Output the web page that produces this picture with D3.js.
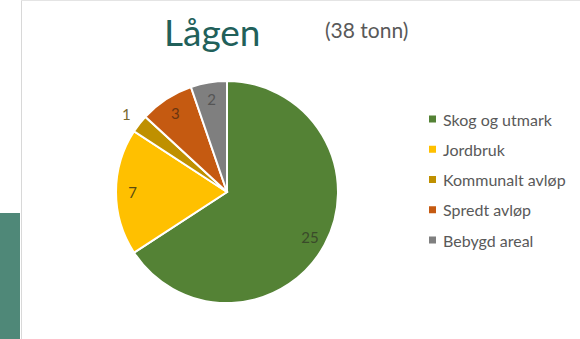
<!DOCTYPE html>
<html>
<head>
<meta charset="utf-8">
<script src="https://cdn.jsdelivr.net/npm/d3@7"></script>
<style>
  html, body { margin: 0; padding: 0; background: #fff; }
  svg { display: block; font-family: Lato, "Open Sans", sans-serif; }
</style>
</head>
<body>
<svg id="chart" width="580" height="339"></svg>
<script>
// Phosphorus sources for Lågen, tonnes per year
const categories = ["Skog og utmark", "Jordbruk", "Kommunalt avløp", "Spredt avløp", "Bebygd areal"];
const values = [25, 7, 1, 3, 2];
const colors = ["#548235", "#ffc000", "#bf9000", "#c55a11", "#7f7f7f"];
const title = "Lågen";
const subtitle = "(38 tonn)";

const svg = d3.select("#chart");

// slide frame: side panel and rule lines
svg.append("rect").attr("x", 0).attr("y", 213).attr("width", 20).attr("height", 126).attr("fill", "#4f8878");
svg.append("line").attr("x1", 21.5).attr("x2", 21.5).attr("y1", 0).attr("y2", 339)
  .attr("stroke", "#d8d8d8").attr("stroke-width", 1);
svg.append("line").attr("x1", 21).attr("x2", 580).attr("y1", 0.5).attr("y2", 0.5)
  .attr("stroke", "#e4e4e4").attr("stroke-width", 1);

svg.append("text").attr("x", 164).attr("y", 46).attr("font-size", 37).attr("fill", "#21605a").text(title);
svg.append("text").attr("x", 325).attr("y", 38).attr("font-size", 21).attr("fill", "#595959").text(subtitle);

const cx = 227, cy = 192, r = 111;
const data = categories.map((c, i) => ({ cat: c, value: values[i], color: colors[i] }));
const pie = d3.pie().sort(null).value(d => d.value);
const arcs = pie(data);
const arc = d3.arc().innerRadius(0).outerRadius(r);

const g = svg.append("g").attr("transform", `translate(${cx},${cy})`);
g.selectAll("path").data(arcs).join("path")
  .attr("d", arc)
  .attr("fill", d => d.data.color)
  .attr("stroke", "#fff")
  .attr("stroke-width", 2);

// value labels: the smallest slice gets its label outside
const inner = d3.arc().innerRadius(r * 0.85).outerRadius(r * 0.85);
const outer = d3.arc().innerRadius(r * 1.15).outerRadius(r * 1.15);
const labelColors = ["#3a4a2a", "#5a4a10", "#7a6a30", "#6a3510", "#555"];
g.selectAll("text.val").data(arcs).join("text")
  .attr("class", "val")
  .attr("transform", d => `translate(${(d.data.value < 2 ? outer : inner).centroid(d)})`)
  .attr("text-anchor", "middle")
  .attr("dominant-baseline", "central")
  .attr("font-size", 15)
  .attr("fill", (d, i) => labelColors[i])
  .text(d => d.data.value);

// legend
const y = d3.scalePoint().domain(categories).range([119, 240]);
const lg = svg.append("g");
lg.selectAll("rect").data(data).join("rect")
  .attr("x", 429).attr("y", d => y(d.cat) - 3.5).attr("width", 7).attr("height", 7)
  .attr("fill", d => d.color);
lg.selectAll("text").data(data).join("text")
  .attr("x", 443).attr("y", d => y(d.cat))
  .attr("dominant-baseline", "central")
  .attr("font-size", 16).attr("fill", "#595959")
  .text(d => d.cat);
</script>
</body>
</html>
